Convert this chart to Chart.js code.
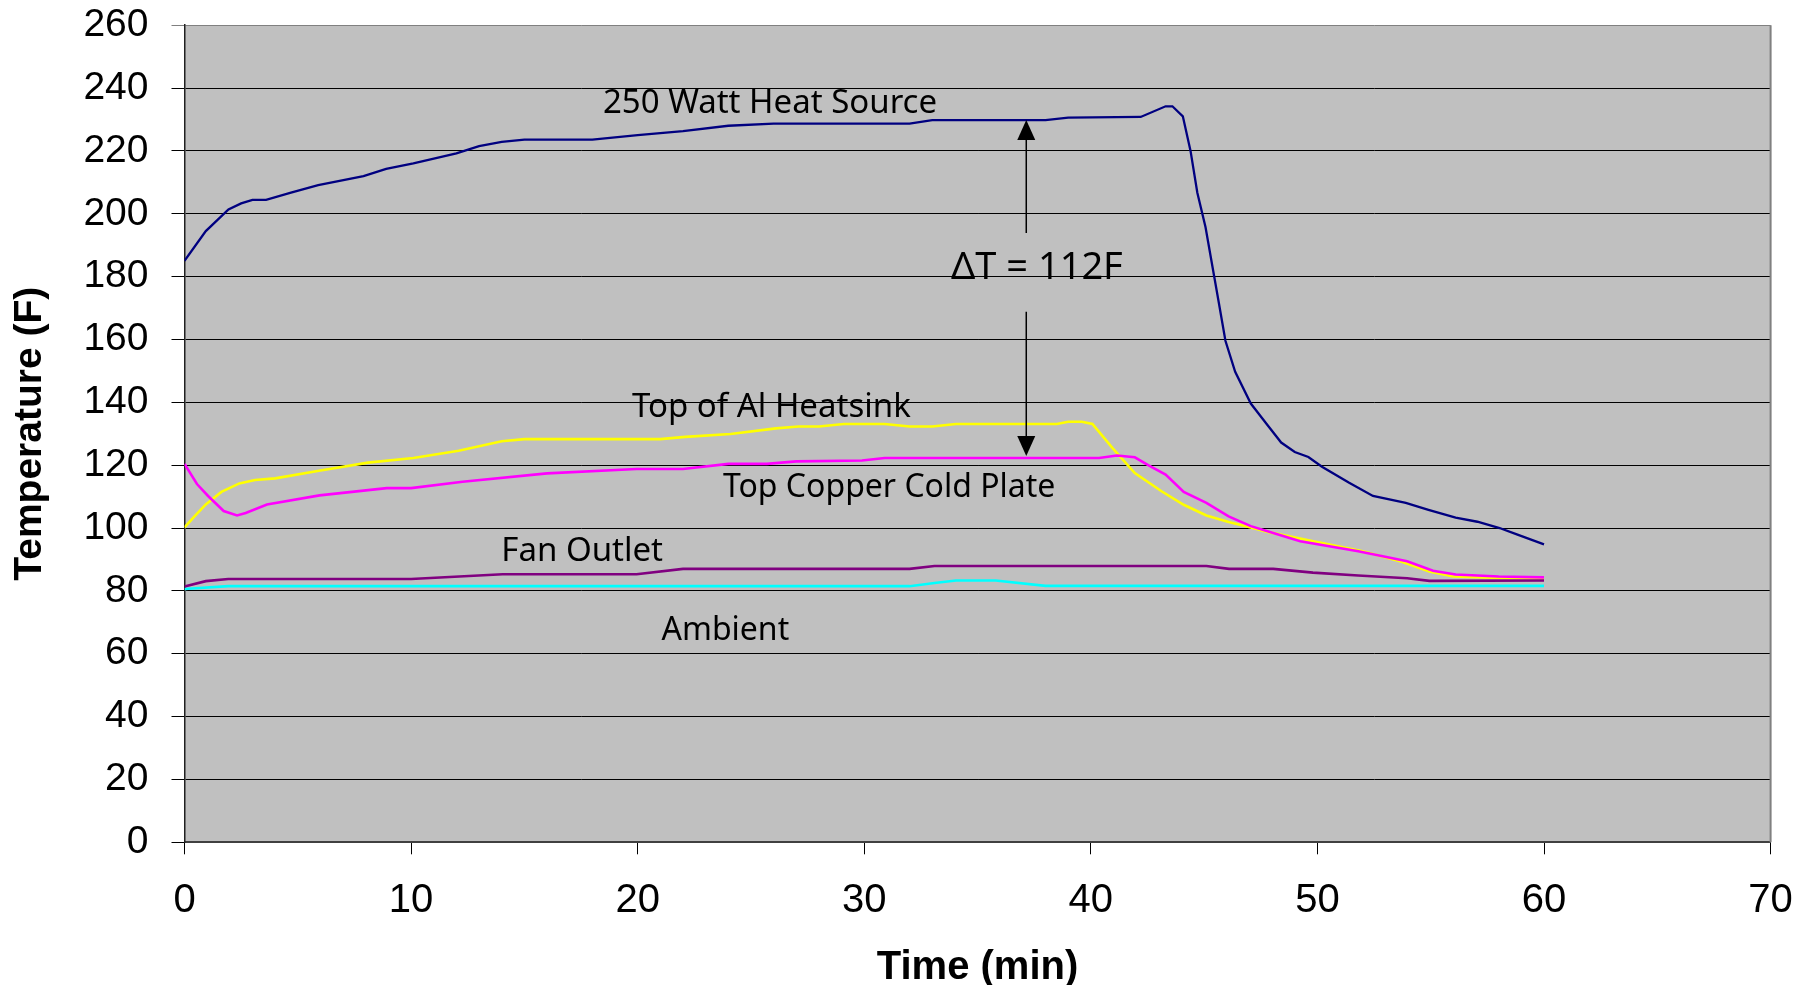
<!DOCTYPE html>
<html>
<head>
<meta charset="utf-8">
<script src="https://cdn.jsdelivr.net/npm/chart.js@4.4.1/dist/chart.umd.min.js"></script>
<style>
  html, body { margin: 0; padding: 0; background: #ffffff; }
  canvas { display: block; }
</style>
</head>
<body>
<canvas id="c" width="1797" height="985"></canvas>
<script>
// ---- Data ----
const heatT = [0, 0.94, 1.94, 2.5, 3.0, 3.6, 4.7, 5.9, 7.9, 8.9, 10.1, 12.0, 13.0, 14.0, 15.0, 18.0, 20, 22, 24, 26, 32, 33, 38, 39, 42.2, 43.3, 43.6, 44.06, 44.4, 44.7, 45.06, 45.45, 45.65, 45.94, 46.37, 47.06, 47.75, 48.4, 49.0, 49.6, 50.2, 51.4, 52.45, 53.9, 54.9, 56.1, 57.06, 58.04, 58.8, 60];
const heatV = [185, 194.5, 201.4, 203.3, 204.4, 204.4, 206.7, 209.1, 212, 214.3, 216, 219.2, 221.5, 222.9, 223.6, 223.6, 225, 226.3, 228, 228.7, 228.7, 229.8, 229.8, 230.6, 230.8, 234.2, 234.2, 231, 220, 206.7, 195.8, 179.8, 171.6, 159.6, 149.7, 139.6, 133.2, 127.2, 124.2, 122.6, 119.5, 114.4, 110.2, 108, 105.8, 103.3, 102, 100, 98, 94.8];

const alT = [0, 0.45, 0.94, 1.63, 2.42, 3.11, 4.0, 6.0, 8.1, 10.1, 12.1, 14.0, 15.0, 21.0, 22.1, 24.1, 26.1, 27.1, 28.0, 29.1, 30.9, 32.0, 33.0, 34.05, 38.5, 39.0, 39.6, 40.07, 40.95, 41.94, 43.12, 44.1, 45.1, 46.08, 47.06, 47.85, 49.82, 52.0, 53.76, 54.94, 56.0, 58, 60];
const alV = [100.2, 103.8, 107.5, 111.5, 114.2, 115.3, 115.8, 118.3, 120.8, 122.3, 124.6, 127.6, 128.3, 128.3, 129, 129.9, 131.7, 132.3, 132.3, 133.1, 133.1, 132.3, 132.3, 133.1, 133.1, 133.8, 133.8, 133.1, 125.5, 117.5, 111.7, 107.4, 104, 101.9, 100.2, 98.7, 95.8, 92.6, 89.2, 86.2, 84.6, 84.1, 84];

const cuT = [0, 0.55, 1.04, 1.73, 2.32, 2.7, 3.64, 5.96, 8.92, 10.0, 12.27, 16.0, 19.95, 22.0, 24.0, 25.7, 27.0, 29.9, 30.9, 40.36, 41.15, 41.94, 42.53, 43.3, 44.1, 45.1, 46.08, 47.06, 48.05, 49.24, 51.8, 53.96, 55.1, 56.1, 58, 60];
const cuV = [120.4, 114, 110.2, 105.4, 104, 104.8, 107.5, 110.4, 112.7, 112.7, 114.7, 117.4, 118.8, 118.8, 120.4, 120.4, 121.2, 121.5, 122.3, 122.3, 123.1, 122.5, 120, 117, 111.5, 108, 103.7, 100.6, 98.4, 95.8, 92.6, 89.4, 86.4, 85.2, 84.6, 84.3];

const fanT = [0, 0.94, 1.93, 10.0, 14.04, 19.95, 22.0, 32.0, 33.1, 45.1, 46.1, 48.05, 49.8, 51.8, 53.96, 54.94, 60];
const fanV = [81.4, 83.1, 83.8, 83.8, 85.3, 85.3, 87, 87, 87.9, 87.9, 87, 87, 85.8, 84.9, 84, 83.2, 83.3];

const ambT = [0, 1.93, 32.0, 33.1, 34.05, 35.8, 38.0, 60];
const ambV = [80.6, 81.5, 81.5, 82.5, 83.3, 83.3, 81.6, 81.6];

const xTicks = [0, 10, 20, 30, 40, 50, 60, 70];
const yTicks = [0, 20, 40, 60, 80, 100, 120, 140, 160, 180, 200, 220, 240, 260];

const seriesNames = ["250 Watt Heat Source", "Top of Al Heatsink", "Top Copper Cold Plate", "Fan Outlet", "Ambient"];
const deltaLabel = "\u0394T = 112F";
const deltaFrom = 229.8;   // heat source level at arrow
const deltaTo = 122.9;     // cold plate level at arrow
const deltaAt = 37.15;     // time of arrow
const deltaGap = [193.9, 168.8];

// ---- Build chart ----
const pts = (T, V) => T.map((t, i) => ({ x: t, y: V[i] }));
const axisFont = "Arial, 'Liberation Sans', sans-serif";
const noteFont = "'Comic Sans MS', 'Noto Sans', sans-serif";

const notes = [
  { text: seriesNames[0], x: 25.84, y: 236.0, size: 33 },
  { text: seriesNames[1], x: 25.9, y: 139.3, size: 33 },
  { text: seriesNames[2], x: 31.1, y: 113.8, size: 32 },
  { text: seriesNames[3], x: 17.55, y: 93.3, size: 33 },
  { text: seriesNames[4], x: 23.87, y: 68.2, size: 32 },
  { text: deltaLabel, x: 37.62, y: 183.8, size: 38 }
];
const noteShiftY = 3;

const plotBg = {
  id: 'plotBg',
  beforeDraw(chart) {
    const { ctx, chartArea: a } = chart;
    ctx.save();
    ctx.fillStyle = '#C0C0C0';
    ctx.fillRect(a.left, a.top, a.right - a.left, a.bottom - a.top);
    ctx.restore();
  },
  afterDraw(chart) {
    const { ctx, chartArea: a } = chart;
    ctx.save();
    ctx.strokeStyle = '#808080';
    ctx.lineWidth = 2;
    ctx.beginPath();
    ctx.moveTo(a.right, a.top);
    ctx.lineTo(a.right, a.bottom);
    ctx.stroke();
    ctx.restore();
  }
};

const annot = {
  id: 'annot',
  afterDatasetsDraw(chart) {
    const { ctx } = chart;
    const xs = chart.scales.x, ys = chart.scales.y;
    ctx.save();
    ctx.fillStyle = '#000';
    ctx.textAlign = 'center';
    ctx.textBaseline = 'middle';
    notes.forEach(n => {
      ctx.font = n.size + 'px ' + noteFont;
      ctx.fillText(n.text, xs.getPixelForValue(n.x), ys.getPixelForValue(n.y) + noteShiftY);
    });
    // double arrow
    const ax = xs.getPixelForValue(deltaAt);
    const yTop = ys.getPixelForValue(deltaFrom);
    const yBot = ys.getPixelForValue(deltaTo);
    const g1 = ys.getPixelForValue(deltaGap[0]);
    const g2 = ys.getPixelForValue(deltaGap[1]);
    const hw = 9, hh = 20;
    ctx.strokeStyle = '#000';
    ctx.lineWidth = 1.5;
    ctx.beginPath();
    ctx.moveTo(ax, yTop + hh); ctx.lineTo(ax, g1);
    ctx.moveTo(ax, g2); ctx.lineTo(ax, yBot - hh);
    ctx.stroke();
    ctx.beginPath();
    ctx.moveTo(ax, yTop); ctx.lineTo(ax - hw, yTop + hh); ctx.lineTo(ax + hw, yTop + hh); ctx.closePath();
    ctx.fill();
    ctx.beginPath();
    ctx.moveTo(ax, yBot); ctx.lineTo(ax - hw, yBot - hh); ctx.lineTo(ax + hw, yBot - hh); ctx.closePath();
    ctx.fill();
    ctx.restore();
  }
};

const ds = (label, T, V, color, w) => ({
  label, data: pts(T, V), showLine: true, borderColor: color, backgroundColor: color,
  borderWidth: w, pointRadius: 0, tension: 0, fill: false
});

new Chart(document.getElementById('c'), {
  type: 'scatter',
  data: {
    datasets: [
      ds(seriesNames[3], fanT, fanV, '#800080', 2.6),
      ds(seriesNames[4], ambT, ambV, '#00FFFF', 2.6),
      ds(seriesNames[2], cuT, cuV, '#FF00FF', 2.6),
      ds(seriesNames[1], alT, alV, '#FFFF00', 2.6),
      ds(seriesNames[0], heatT, heatV, '#000080', 2.3)
    ]
  },
  options: {
    responsive: false,
    animation: false,
    devicePixelRatio: 1,
    layout: { padding: { top: 25.2, right: 26.4, left: 0, bottom: 0 } },
    plugins: { legend: { display: false }, tooltip: { enabled: false } },
    scales: {
      x: {
        type: 'linear', min: xTicks[0], max: xTicks[xTicks.length - 1],
        afterBuildTicks: s => { s.ticks = xTicks.map(v => ({ value: v })); },
        afterFit: s => { s.height = 142.7; s.paddingLeft = 0; s.paddingRight = 0; s.paddingTop = 0; s.paddingBottom = 0; },
        ticks: { color: '#000', font: { family: axisFont, size: 40 }, padding: 23, maxRotation: 0 },
        grid: { drawOnChartArea: false, drawTicks: true, tickLength: 12, color: '#000', lineWidth: 1 },
        border: { color: '#404040', width: 2 },
        title: { display: true, text: 'Time (min)', color: '#000',
                 font: { family: axisFont, size: 40, weight: 'bold', lineHeight: 0.8 },
                 padding: { top: 0, bottom: 1 } }
      },
      y: {
        min: yTicks[0], max: yTicks[yTicks.length - 1],
        afterBuildTicks: s => { s.ticks = yTicks.map(v => ({ value: v })); },
        afterFit: s => { s.width = 184.5; s.paddingLeft = 0; s.paddingRight = 0; s.paddingTop = 0; s.paddingBottom = 0; },
        ticks: { color: '#000', font: { family: axisFont, size: 39 }, padding: 23 },
        grid: { color: ctx => (ctx.tick && ctx.tick.value === 260 ? '#808080' : '#000'), lineWidth: 1, tickLength: 13, drawTicks: true },
        border: { color: '#202020', width: 1.5 },
        title: { display: true, text: 'Temperature (F)', color: '#000',
                 font: { family: axisFont, size: 39, weight: 'bold', lineHeight: 1 },
                 padding: { top: 10.5, bottom: 0 } }
      }
    }
  },
  plugins: [plotBg, annot]
});
</script>
</body>
</html>
